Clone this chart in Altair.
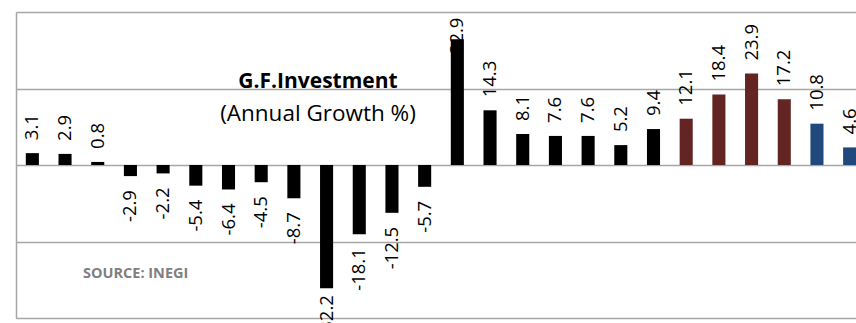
import altair as alt
import pandas as pd

periods = [f"P{i:02d}" for i in range(1, 27)]
growth = [3.1, 2.9, 0.8, -2.9, -2.2, -5.4, -6.4, -4.5, -8.7, -32.2, -18.1, -12.5, -5.7,
          32.9, 14.3, 8.1, 7.6, 7.6, 5.2, 9.4, 12.1, 18.4, 23.9, 17.2, 10.8, 4.6]
groups = ["A"] * 20 + ["B"] * 4 + ["C"] * 2
group_names = ["A", "B", "C"]
group_colors = ["#000000", "#632523", "#1F497D"]
grid_values = [-40, -20, 0, 20, 40]

df = pd.DataFrame({"period": periods, "growth": growth, "group": groups})
df["label"] = df["growth"].map(lambda v: f"{v:.1f}")

FONT = "Open Sans"

x = alt.X("period:N", sort=periods, axis=None,
          scale=alt.Scale(range=[0, 850], paddingInner=0.6, paddingOuter=0.3))
y = alt.Y("growth:Q",
          scale=alt.Scale(domain=[-40, 40], nice=False, zero=True),
          axis=alt.Axis(values=grid_values, labels=False, ticks=False, title=None,
                        grid=True, gridColor="#a6a6a6", gridWidth=1.5,
                        domain=True, domainColor="#a6a6a6", domainWidth=1.5))

base = alt.Chart(df)

bars = base.mark_bar(clip=False).encode(
    x=x, y=y,
    color=alt.Color("group:N", scale=alt.Scale(domain=group_names, range=group_colors), legend=None),
)

lbl_kw = dict(angle=270, baseline="middle", font=FONT, fontSize=18.5, color="#000000")

pos = base.transform_filter("datum.growth >= 0 && datum.growth < 30").mark_text(
    align="left", dx=13, **lbl_kw).encode(x=x, y=y, text="label:N")
neg = base.transform_filter("datum.growth < 0 && datum.growth > -30").mark_text(
    align="right", dx=-14, **lbl_kw).encode(x=x, y=y, text="label:N")
pos_big = base.transform_filter("datum.growth >= 30").mark_text(
    align="left", dx=-15, **lbl_kw).encode(x=x, y=y, text="label:N")
neg_big = base.transform_filter("datum.growth <= -30").mark_text(
    align="right", dx=-7, **lbl_kw).encode(x=x, y=y, text="label:N")

title = alt.Chart(pd.DataFrame({"t": ["G.F.Investment"]})).mark_text(
    font=FONT, fontSize=21, fontWeight="bold", align="center", baseline="alphabetic", color="#000000"
).encode(x=alt.value(302), y=alt.value(76), text="t:N")
subtitle = alt.Chart(pd.DataFrame({"t": ["(Annual Growth %)"]})).mark_text(
    font=FONT, fontSize=22.5, align="center", baseline="alphabetic", color="#000000"
).encode(x=alt.value(302), y=alt.value(109), text="t:N")
source = alt.Chart(pd.DataFrame({"t": ["SOURCE: INEGI"]})).mark_text(
    font=FONT, fontSize=14.5, fontWeight="bold", align="left", baseline="alphabetic", color="#808080"
).encode(x=alt.value(67), y=alt.value(266), text="t:N")

chart = alt.layer(bars, pos, neg, pos_big, neg_big, title, subtitle, source).properties(
    width=840, height=306,
    autosize=alt.AutoSizeParams(type="none"),
    padding={"left": 16, "top": 12, "right": 0, "bottom": 5},
).configure_view(stroke=None).configure(background="#ffffff")

chart.save("out.html", embed_options={"renderer": "svg", "actions": False})
